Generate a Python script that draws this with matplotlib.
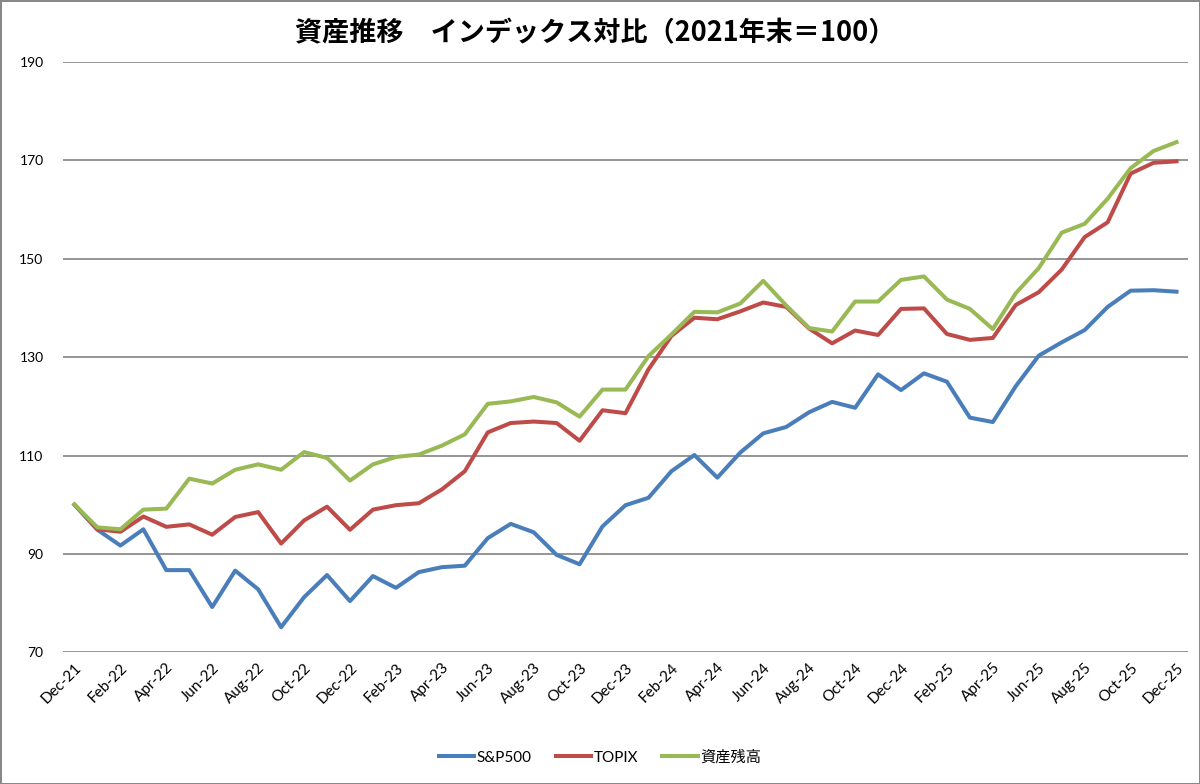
import matplotlib
matplotlib.use("Agg")
import matplotlib.pyplot as plt

plt.rcParams['font.family'] = ['Lato', 'Noto Sans CJK JP', 'DejaVu Sans']

# month labels Dec-21 .. Dec-25
months = ["Jan", "Feb", "Mar", "Apr", "May", "Jun",
          "Jul", "Aug", "Sep", "Oct", "Nov", "Dec"]
labels = []
for k in range(49):
    m = (11 + k) % 12
    yr = 21 + (11 + k) // 12
    labels.append(f"{months[m]}-{yr}")

sp500 = [100.0, 94.9, 91.7, 95.0, 86.7, 86.7, 79.2, 86.6, 82.8, 75.1,
         81.2, 85.7, 80.4, 85.5, 83.1, 86.3, 87.3, 87.6, 93.2, 96.1,
         94.4, 89.8, 87.9, 95.6, 99.9, 101.4, 106.8, 110.1, 105.5, 110.6,
         114.5, 115.8, 118.8, 120.9, 119.7, 126.5, 123.3, 126.7, 125.0, 117.7,
         116.8, 124.1, 130.3, 133.0, 135.5, 140.2, 143.5, 143.6, 143.3]

topix = [100.0, 95.0, 94.5, 97.6, 95.5, 96.0, 93.9, 97.5, 98.5, 92.1,
         96.8, 99.6, 94.9, 99.0, 99.9, 100.3, 103.1, 106.8, 114.7, 116.6,
         116.9, 116.6, 113.0, 119.2, 118.6, 127.5, 134.3, 138.0, 137.7, 139.3,
         141.1, 140.2, 135.8, 132.8, 135.4, 134.5, 139.8, 139.9, 134.7, 133.5,
         133.9, 140.6, 143.2, 147.8, 154.4, 157.4, 167.3, 169.5, 169.8]

assets = [100.0, 95.4, 95.0, 99.0, 99.2, 105.3, 104.3, 107.1, 108.2, 107.1,
          110.7, 109.5, 104.9, 108.2, 109.7, 110.2, 112.0, 114.3, 120.5, 121.0,
          121.9, 120.8, 117.9, 123.4, 123.4, 130.2, 134.6, 139.2, 139.1, 140.9,
          145.5, 140.5, 135.9, 135.2, 141.3, 141.3, 145.7, 146.4, 141.7, 139.8,
          135.7, 143.0, 148.1, 155.3, 157.1, 162.2, 168.4, 171.9, 173.7]

x = list(range(len(labels)))

fig = plt.figure(figsize=(12, 7.84), dpi=100)
fig.patch.set_edgecolor('#888888')
fig.patch.set_linewidth(2)
ax = fig.add_axes([0.0525, 0.168, 0.9375, 0.753])

ax.plot(x, sp500, color='#4a7ebb', lw=2.9, label='S&P500', solid_joinstyle='round')
ax.plot(x, topix, color='#be4b48', lw=2.9, label='TOPIX', solid_joinstyle='round')
ax.plot(x, assets, color='#98b954', lw=2.9, label='資産残高', solid_joinstyle='round')

ax.set_xlim(-0.5, 48.5)
ax.set_ylim(70, 190)
ax.set_yticks(range(70, 191, 20))
ax.grid(axis='y', color='#8c8c8c', lw=1.3)
ax.set_axisbelow(True)
for s in ax.spines.values():
    s.set_visible(False)

ax.set_xticks(x[::2])
ax.set_xticklabels(labels[::2], rotation=45, ha='right', rotation_mode='anchor')
ax.tick_params(axis='both', length=0, labelsize=11, colors='black')
ax.tick_params(axis='y', labelsize=10, pad=14)
ax.tick_params(axis='x', pad=6)

fig.suptitle('資産推移\u3000インデックス対比（2021年末＝100）', x=0.496, y=0.975,
             fontsize=19.5, fontweight='bold', family=['Noto Sans CJK JP'])

fig.legend(loc='center', bbox_to_anchor=(0.5, 0.034), ncol=3, frameon=False,
           fontsize=11, handlelength=2.3, columnspacing=1.6, handletextpad=0.15)

fig.savefig('out.png', dpi=100)
